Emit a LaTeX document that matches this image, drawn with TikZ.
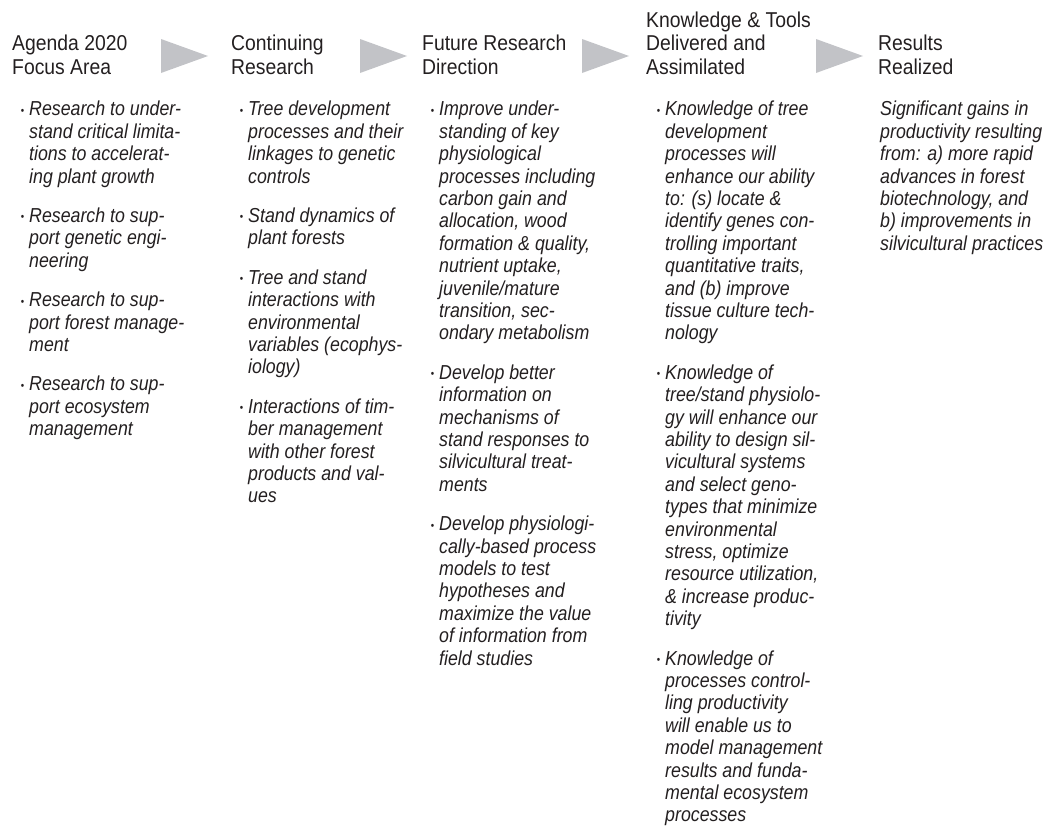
\documentclass[tikz,border=0pt]{standalone}
\usepackage{fontspec}
\setmainfont{Liberation Sans}
\newfontfamily\headfont{Liberation Sans}[FakeStretch=0.9]
\newfontfamily\bodyfont{Liberation Sans}[FakeStretch=0.88]
\definecolor{chevgray}{RGB}{194,195,199}
\definecolor{inkgray}{RGB}{35,31,32}
\newcommand{\bul}{\llap{\upshape\raisebox{1.5pt}{\fontsize{11}{11}\selectfont\textbullet}\hspace{5pt}}}

\begin{document}
\begin{tikzpicture}[
    x=1pt, y=1pt,
    head/.style={
        anchor=south west,
        inner sep=0pt,
        align=left,
        text=inkgray,
        font=\headfont\fontsize{21.5}{23.5}\selectfont
    },
    body/.style={
        anchor=north west,
        inner sep=0pt,
        align=left,
        text=inkgray,
        font=\bodyfont\itshape\fontsize{20.2}{22.4}\selectfont
    },
    chev/.style={fill=chevgray}
]
    \useasboundingbox (0,0) rectangle (1050,-827);

    % column headings
    \node[head] (focushead) at (12,-74.5) {Agenda 2020\\Focus Area};
    \node[head] (conthead) at (231,-74.5) {Continuing\\Research};
    \node[head] (futurehead) at (422,-74.5) {Future Research\\Direction};
    \node[head] (knowhead) at (646,-74.5) {Knowledge \& Tools\\Delivered and\\Assimilated};
    \node[head] (resulthead) at (878,-74.5) {Results\\Realized};

    % grey arrow heads between the headings
    \foreach \x in {161,360,582,816}
        \fill[chev] (\x,-39) -- (\x+47,-56) -- (\x,-73) -- cycle;

    % column texts
    \node[body] (focus) at (29,-101) {%
        \bul Research to under-\\
        stand critical limita-\\
        tions to accelerat-\\
        ing plant growth\\[17pt]
        \bul Research to sup-\\
        port genetic engi-\\
        neering\\[17pt]
        \bul Research to sup-\\
        port forest manage-\\
        ment\\[17pt]
        \bul Research to sup-\\
        port ecosystem\\
        management};

    \node[body] (cont) at (248,-101) {%
        \bul Tree development\\
        processes and their\\
        linkages to genetic\\
        controls\\[17pt]
        \bul Stand dynamics of\\
        plant forests\\[17pt]
        \bul Tree and stand\\
        interactions with\\
        environmental\\
        variables (ecophys-\\
        iology)\\[17pt]
        \bul Interactions of tim-\\
        ber management\\
        with other forest\\
        products and val-\\
        ues};

    \node[body] (future) at (439,-101) {%
        \bul Improve under-\\
        standing of key\\
        physiological\\
        processes including\\
        carbon gain and\\
        allocation, wood\\
        formation \& quality,\\
        nutrient uptake,\\
        juvenile/mature\\
        transition, sec-\\
        ondary metabolism\\[17pt]
        \bul Develop better\\
        information on\\
        mechanisms of\\
        stand responses to\\
        silvicultural treat-\\
        ments\\[17pt]
        \bul Develop physiologi-\\
        cally-based process\\
        models to test\\
        hypotheses and\\
        maximize the value\\
        of information from\\
        field studies};

    \node[body] (know) at (665,-101) {%
        \bul Knowledge of tree\\
        development\\
        processes will\\
        enhance our ability\\
        to: (s) locate \&\\
        identify genes con-\\
        trolling important\\
        quantitative traits,\\
        and (b) improve\\
        tissue culture tech-\\
        nology\\[17pt]
        \bul Knowledge of\\
        tree/stand physiolo-\\
        gy will enhance our\\
        ability to design sil-\\
        vicultural systems\\
        and select geno-\\
        types that minimize\\
        environmental\\
        stress, optimize\\
        resource utilization,\\
        \& increase produc-\\
        tivity\\[17pt]
        \bul Knowledge of\\
        processes control-\\
        ling productivity\\
        will enable us to\\
        model management\\
        results and funda-\\
        mental ecosystem\\
        processes};

    \node[body] (result) at (880,-101) {%
        Significant gains in\\
        productivity resulting\\
        from: a) more rapid\\
        advances in forest\\
        biotechnology, and\\
        b) improvements in\\
        silvicultural practices};
\end{tikzpicture}
\end{document}
